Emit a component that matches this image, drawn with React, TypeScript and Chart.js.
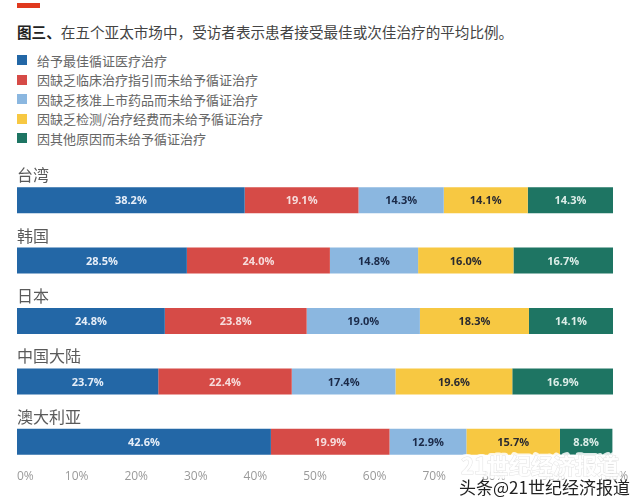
import React, { useEffect, useRef } from "react";
import { Chart, registerables } from "chart.js";

Chart.register(...registerables);

const categories = ["台湾", "韩国", "日本", "中国大陆", "澳大利亚"];
const seriesNames = [
  "给予最佳循证医疗治疗",
  "因缺乏临床治疗指引而未给予循证治疗",
  "因缺乏核准上市药品而未给予循证治疗",
  "因缺乏检测/治疗经费而未给予循证治疗",
  "因其他原因而未给予循证治疗",
];
const bestCare = [38.2, 28.5, 24.8, 23.7, 42.6];
const noGuideline = [19.1, 24.0, 23.8, 22.4, 19.9];
const noApprovedDrug = [14.3, 14.8, 19.0, 17.4, 12.9];
const noFunding = [14.1, 16.0, 18.3, 19.6, 15.7];
const otherReason = [14.3, 16.7, 14.1, 16.9, 8.8];
const seriesColors = ["#2367A6", "#D64B47", "#8BB7E0", "#F7C842", "#1E7563"];
const labelColors = ["#E6EEF8", "#F6DCDC", "#1B2A48", "#2A2A30", "#DCEDE8"];
const xTickValues = [0, 10, 20, 30, 40, 50, 60, 70, 80, 90, 100];
const xTickLabels = ["0%", "10%", "20%", "30%", "40%", "50%", "60%", "70%", "80%", "90%", "100%"];
const titleBold = "图三、";
const titleRest = "在五个亚太市场中，受访者表示患者接受最佳或次佳治疗的平均比例。";
const watermarkA = "21世纪经济报道";
const watermarkB = "头条@21世纪经济报道";

const seriesValues = [bestCare, noGuideline, noApprovedDrug, noFunding, otherReason];

export default function App() {
  const ref = useRef<HTMLCanvasElement | null>(null);

  useEffect(() => {
    if (!ref.current) return;
    const overlay = {
      id: "overlay",
      afterDatasetsDraw(chart: any) {
        const ctx = chart.ctx;
        const xs = chart.scales.x;
        const ys = chart.scales.y;
        ctx.save();
        // segment labels
        chart.data.datasets.forEach((ds: any, di: number) => {
          const meta = chart.getDatasetMeta(di);
          meta.data.forEach((bar: any, i: number) => {
            const v = ds.data[i];
            const cx = (bar.x + bar.base) / 2;
            ctx.font = "bold 11px 'Open Sans', sans-serif";
            ctx.fillStyle = labelColors[di];
            ctx.textAlign = "center";
            ctx.textBaseline = "middle";
            ctx.fillText(v.toFixed(1) + "%", cx, bar.y + 1);
          });
        });
        // category labels above bars
        categories.forEach((c, i) => {
          const y = ys.getPixelForValue(i);
          ctx.font = "16px 'Noto Sans CJK SC', sans-serif";
          ctx.fillStyle = "#5A5A5A";
          ctx.textAlign = "left";
          ctx.textBaseline = "middle";
          ctx.fillText(c, xs.left, y - 25);
        });
        // x tick labels
        const tickY = ys.getPixelForValue(categories.length - 1) + 35;
        xTickValues.forEach((v, i) => {
          const px = xs.getPixelForValue(v);
          ctx.font = "12px 'Open Sans', sans-serif";
          ctx.fillStyle = "#9A9A9A";
          ctx.textBaseline = "middle";
          ctx.textAlign = i === 0 ? "left" : "center";
          ctx.fillText(xTickLabels[i], px, tickY);
        });
        // watermark
        ctx.font = "bold 22px 'Noto Sans CJK SC', sans-serif";
        ctx.textAlign = "left";
        ctx.textBaseline = "middle";
        ctx.lineJoin = "round";
        ctx.lineWidth = 6;
        ctx.strokeStyle = "rgba(255,255,255,0.85)";
        ctx.strokeText(watermarkA, 461, 466);
        ctx.lineWidth = 1;
        ctx.strokeStyle = "rgba(160,160,160,0.3)";
        ctx.strokeText(watermarkA, 461, 466);
        ctx.fillStyle = "rgba(255,255,255,0.95)";
        ctx.fillText(watermarkA, 461, 466);
        ctx.font = "17px 'Noto Sans CJK SC', sans-serif";
        ctx.fillStyle = "#222222";
        ctx.fillText(watermarkB, 459, 488);
        ctx.restore();
      },
    };

    const chart = new Chart(ref.current, {
      type: "bar",
      data: {
        labels: categories,
        datasets: seriesValues.map((vals, i) => ({
          label: seriesNames[i],
          data: vals,
          backgroundColor: seriesColors[i],
          borderWidth: 0,
          categoryPercentage: 1,
          barPercentage: 0.43,
        })),
      },
      options: {
        indexAxis: "y",
        animation: false,
        responsive: false,
        maintainAspectRatio: false,
        layout: { padding: { left: 17, right: 27, top: 170, bottom: 32 } },
        plugins: {
          legend: { display: false },
          title: { display: false },
          tooltip: { enabled: false },
        },
        scales: {
          x: { stacked: true, min: 0, max: 100, display: false },
          y: { stacked: true, display: false },
        },
      },
      plugins: [overlay],
    });
    return () => chart.destroy();
  }, []);

  return (
    <div style={{ position: "fixed", left: 0, top: 0, width: 640, height: 504, background: "#ffffff", overflow: "hidden" }}>
      <div style={{ position: "absolute", left: 17, top: 3, width: 23, height: 5, background: "#E0391E" }} />
      <div
        style={{
          position: "absolute",
          left: 17,
          top: 22,
          fontFamily: "'Noto Sans CJK SC', sans-serif",
          fontSize: 14.6,
          lineHeight: "20px",
          color: "#444444",
          whiteSpace: "nowrap",
        }}
      >
        <span style={{ fontWeight: 700, color: "#222222" }}>{titleBold}</span>
        {titleRest}
      </div>
      {seriesNames.map((n, i) => (
        <div
          key={n}
          style={{
            position: "absolute",
            left: 17,
            top: 50 + i * 19.5,
            height: 20,
            display: "flex",
            alignItems: "center",
            fontFamily: "'Noto Sans CJK SC', sans-serif",
            fontSize: 13,
            color: "#666666",
            whiteSpace: "nowrap",
          }}
        >
          <span style={{ display: "inline-block", width: 10, height: 10, background: seriesColors[i], marginRight: 10 }} />
          {n}
        </div>
      ))}
      <canvas ref={ref} width={640} height={504} style={{ position: "absolute", left: 0, top: 0 }} />
    </div>
  );
}
